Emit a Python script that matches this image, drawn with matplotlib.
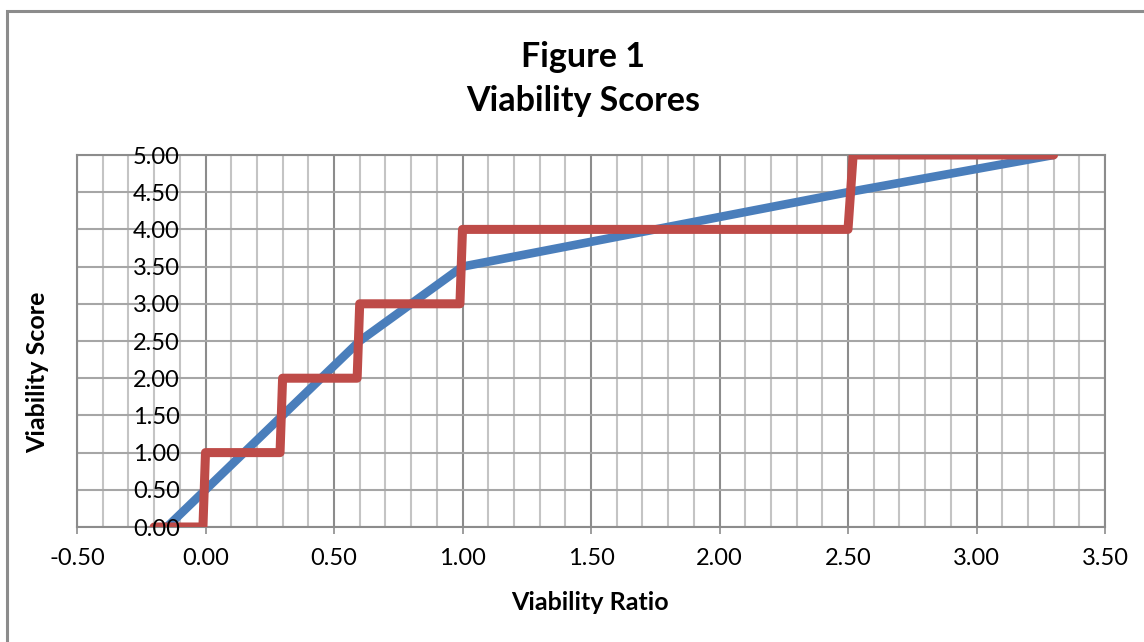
import matplotlib.pyplot as plt
from matplotlib.patches import Rectangle
from matplotlib.ticker import MultipleLocator, FormatStrFormatter

# blue: viability score as a continuous function of the ratio
ratio_pts = [-0.15, 0.0, 0.3, 0.6, 1.0, 2.5, 3.3]
score_pts = [0.0, 0.5, 1.5, 2.5, 3.5, 4.5, 5.0]

# red: stepped score
step_x = [-0.2, -0.01, 0.0, 0.29, 0.30, 0.59, 0.60, 0.99, 1.00, 2.50, 2.52, 3.30]
step_y = [0, 0, 1, 1, 2, 2, 3, 3, 4, 4, 5, 5]

plt.rcParams['font.family'] = ['Lato', 'DejaVu Sans']

fig = plt.figure(figsize=(11.44, 6.42), dpi=100)
ax = fig.add_axes([77 / 1144, 1 - 527 / 642, 1028 / 1144, 372 / 642])

ax.plot(ratio_pts, score_pts, color='#4A7EBB', lw=6.2, solid_capstyle='butt',
        solid_joinstyle='round', zorder=3)
ax.plot(step_x, step_y, color='#BE4B48', lw=6.5, solid_capstyle='round',
        solid_joinstyle='round', zorder=4)

ax.set_xlim(-0.5, 3.5)
ax.set_ylim(0, 5)
ax.xaxis.set_major_locator(MultipleLocator(0.5))
ax.xaxis.set_minor_locator(MultipleLocator(0.1))
ax.yaxis.set_major_locator(MultipleLocator(0.5))
ax.xaxis.set_major_formatter(FormatStrFormatter('%.2f'))
ax.yaxis.set_major_formatter(FormatStrFormatter('%.2f'))

ax.grid(which='major', axis='x', color='#8C8C8C', lw=1.5, zorder=1)
ax.grid(which='minor', axis='x', color='#C4C4C4', lw=1.5, zorder=1)
ax.set_axisbelow(True)
# horizontal gridlines drawn separately so the y labels can sit above the lines
for yt in ax.get_yticks():
    ax.axhline(yt, color='#A6A6A6', lw=1.5, zorder=1.5)
ax.yaxis.set_zorder(5)

for s in ax.spines.values():
    s.set_color('#8C8C8C')
    s.set_linewidth(1.5)

ax.tick_params(axis='x', which='major', direction='out', length=5, width=1.2,
               color='#8C8C8C', labelsize=17, pad=10)
ax.tick_params(axis='x', which='minor', length=0)
ax.tick_params(axis='y', which='major', length=0, labelsize=17, pad=-74)
for lbl in ax.get_yticklabels():
    lbl.set_horizontalalignment('right')

fig.text(0.5096, 1 - 57 / 642, 'Figure 1', ha='center', va='center',
         fontsize=24.5, fontweight='bold')
fig.text(0.5096, 1 - 101 / 642, 'Viability Scores', ha='center', va='center',
         fontsize=24.5, fontweight='bold')
fig.text(590 / 1144, 1 - 603 / 642, 'Viability Ratio', ha='center', va='center',
         fontsize=18, fontweight='bold')
fig.text(38 / 1144, 1 - 372 / 642, 'Viability Score', ha='center', va='center',
         rotation=90, fontsize=18, fontweight='bold')

# chart frame (only top and left edges are inside the image)
fig.patches.append(Rectangle((7 / 1144, -0.2), 1.2, 1.2 - 10.5 / 642,
                             transform=fig.transFigure, fill=False,
                             edgecolor='#8C8C8C', lw=2.2))

fig.savefig('out.png', dpi=100)
